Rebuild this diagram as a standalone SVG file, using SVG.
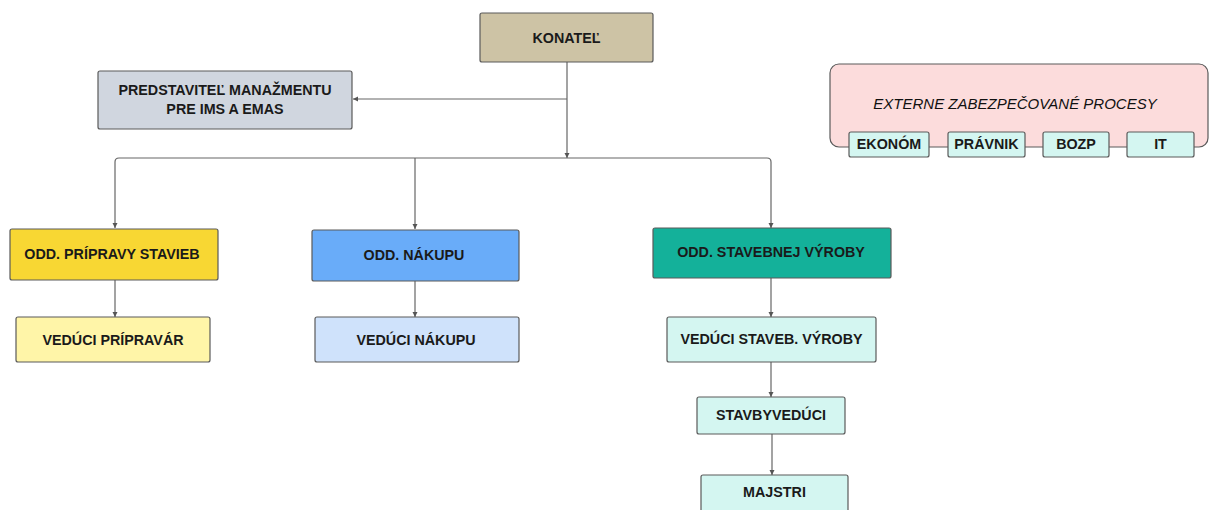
<svg xmlns="http://www.w3.org/2000/svg" width="1212" height="510" viewBox="0 0 1212 510">
<defs>
<marker id="ah" markerWidth="6" markerHeight="6" refX="5" refY="3" orient="auto" markerUnits="userSpaceOnUse">
<path d="M0,0.5 L5,3 L0,5.5 Z" fill="#555"/>
</marker>
<style>
.n{stroke:#5a5a5a;stroke-width:1.2}
.t{font-family:"Liberation Sans",Arial,sans-serif;font-weight:bold;font-size:14.3px;fill:#1a1a1a;text-anchor:middle;dominant-baseline:central}
.c{fill:none;stroke:#666;stroke-width:1.2}
.ca{fill:none;stroke:#666;stroke-width:1.2;marker-end:url(#ah)}
</style>
</defs>
<rect width="1212" height="510" fill="#ffffff"/>
<g id="connectors">
<path class="ca" d="M567,62 V158"/>
<path class="ca" d="M567,99 H353"/>
<path class="c" d="M115,162 Q115,158 119,158 H767 Q771,158 771,162"/>
<path class="ca" d="M115,162 V228"/>
<path class="ca" d="M415,158 V229"/>
<path class="ca" d="M771,162 V228"/>
<path class="ca" d="M115,280 V317"/>
<path class="ca" d="M415,281 V317"/>
<path class="ca" d="M771,278 V317"/>
<path class="ca" d="M771,362 V397"/>
<path class="ca" d="M772,434 V475"/>
</g>
<g id="konatel">
<rect class="n" x="480" y="13" width="173" height="49" rx="2" fill="#cdc3a5"/>
<text class="t" x="566.5" y="38">KONATEĽ</text>
</g>
<g id="predstavitel">
<rect class="n" x="98" y="71" width="254" height="58" rx="2" fill="#d0d6df"/>
<text class="t" x="225" y="90">PREDSTAVITEĽ MANAŽMENTU</text>
<text class="t" x="225" y="109">PRE IMS A EMAS</text>
</g>
<g id="odd-pripravy">
<rect class="n" x="10" y="229" width="208" height="51" rx="2" fill="#f8d733"/>
<text class="t" x="112" y="254">ODD. PRÍPRAVY STAVIEB</text>
</g>
<g id="odd-nakupu">
<rect class="n" x="312" y="230" width="207" height="51" rx="2" fill="#69acf9"/>
<text class="t" x="414" y="255">ODD. NÁKUPU</text>
</g>
<g id="odd-stavebnej">
<rect class="n" x="653" y="228" width="238" height="50" rx="2" fill="#14b19a"/>
<text class="t" x="771" y="252">ODD. STAVEBNEJ VÝROBY</text>
</g>
<g id="veduci-pripravar">
<rect class="n" x="16" y="317" width="194" height="45" rx="2" fill="#fff5a8"/>
<text class="t" x="113" y="339.5">VEDÚCI PRÍPRAVÁR</text>
</g>
<g id="veduci-nakupu">
<rect class="n" x="315" y="317" width="204" height="45" rx="2" fill="#cfe2fb"/>
<text class="t" x="416" y="339.5">VEDÚCI NÁKUPU</text>
</g>
<g id="veduci-staveb">
<rect class="n" x="667" y="317" width="209" height="45" rx="2" fill="#d4f6f1"/>
<text class="t" x="771.5" y="338.5">VEDÚCI STAVEB. VÝROBY</text>
</g>
<g id="stavbyveduci">
<rect class="n" x="697" y="397" width="148" height="37" rx="2" fill="#d4f6f1"/>
<text class="t" x="771" y="414.5">STAVBYVEDÚCI</text>
</g>
<g id="majstri">
<rect class="n" x="701" y="475" width="147" height="45" rx="2" fill="#d4f6f1"/>
<text class="t" x="774.5" y="492">MAJSTRI</text>
</g>
<g id="externe">
<rect class="n" x="830" y="64" width="378" height="83" rx="9" fill="#fcdcdc"/>
<text class="t" x="1015" y="103" style="font-style:italic;font-weight:normal;font-size:15px;fill:#111">EXTERNE ZABEZPEČOVANÉ PROCESY</text>
</g>
<g id="ekonom">
<rect class="n" x="849" y="132" width="80" height="25" rx="2" fill="#d4f6f1"/>
<text class="t" x="889" y="144">EKONÓM</text>
</g>
<g id="pravnik">
<rect class="n" x="948" y="132" width="77" height="25" rx="2" fill="#d4f6f1"/>
<text class="t" x="986.5" y="144">PRÁVNIK</text>
</g>
<g id="bozp">
<rect class="n" x="1043" y="132" width="66" height="25" rx="2" fill="#d4f6f1"/>
<text class="t" x="1076" y="144">BOZP</text>
</g>
<g id="it">
<rect class="n" x="1127" y="132" width="67" height="25" rx="2" fill="#d4f6f1"/>
<text class="t" x="1160.5" y="144">IT</text>
</g>
</svg>
